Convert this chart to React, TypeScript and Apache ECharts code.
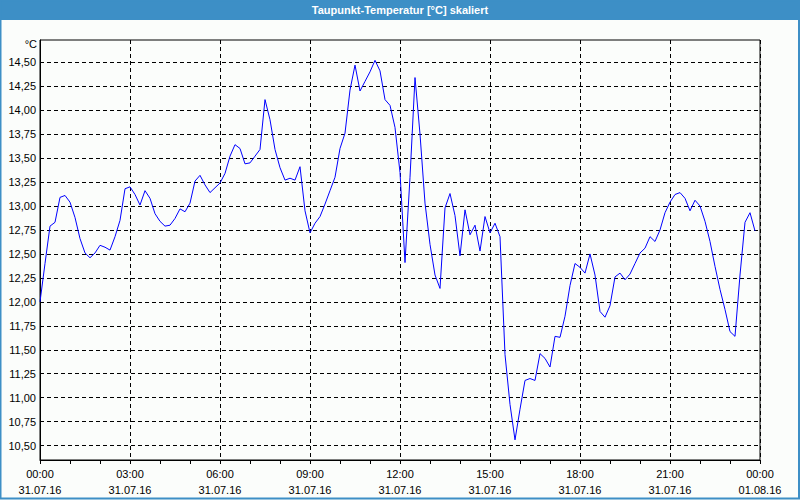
import React, { useEffect, useRef } from "react";
import * as echarts from "echarts";

const TITLE = "Taupunkt-Temperatur [°C] skaliert";
const UNIT = "°C";
// samples every 10 minutes from 31.07.16 00:00
const STEP_MIN = 10;
const dewPoint = [
  12.0, 12.4, 12.79, 12.83, 13.09, 13.11, 13.04, 12.88, 12.66, 12.51, 12.46, 12.51,
  12.59, 12.57, 12.54, 12.68, 12.85, 13.18, 13.2, 13.12, 13.01, 13.16, 13.08, 12.92,
  12.84, 12.79, 12.8, 12.87, 12.97, 12.94, 13.03, 13.26, 13.32, 13.22, 13.14, 13.19,
  13.24, 13.34, 13.52, 13.64, 13.6, 13.44, 13.45, 13.52, 13.59, 14.11, 13.9, 13.59,
  13.4, 13.27, 13.29, 13.27, 13.41, 12.95, 12.72, 12.82, 12.89, 13.02, 13.16, 13.3,
  13.6, 13.76, 14.21, 14.47, 14.2, 14.3, 14.4, 14.52, 14.41, 14.11, 14.05, 13.82,
  13.35, 12.41, 13.3, 14.34, 13.75, 13.03, 12.6, 12.28, 12.14, 12.98, 13.13, 12.9,
  12.48, 12.96, 12.7, 12.8, 12.53, 12.89, 12.72, 12.82, 12.68, 11.45, 10.93, 10.56,
  10.88, 11.18, 11.2, 11.18, 11.46, 11.41, 11.32, 11.64, 11.63, 11.85, 12.17, 12.4,
  12.36, 12.3, 12.5, 12.28, 11.9, 11.84, 11.96, 12.26, 12.3, 12.23, 12.29, 12.4,
  12.51, 12.56, 12.68, 12.63, 12.75, 12.93, 13.04, 13.12, 13.14, 13.08, 12.95, 13.06,
  13.0, 12.84, 12.63, 12.37, 12.13, 11.92, 11.69, 11.64, 12.28, 12.83, 12.93, 12.74,
];
const yTicks = [
  10.5, 10.75, 11.0, 11.25, 11.5, 11.75, 12.0, 12.25, 12.5, 12.75, 13.0, 13.25,
  13.5, 13.75, 14.0, 14.25, 14.5,
];
const xTickHours = [0, 3, 6, 9, 12, 15, 18, 21, 24];
const xTickTimes = ["00:00", "03:00", "06:00", "09:00", "12:00", "15:00", "18:00", "21:00", "00:00"];
const xTickDates = ["31.07.16", "31.07.16", "31.07.16", "31.07.16", "31.07.16", "31.07.16", "31.07.16", "31.07.16", "01.08.16"];

const FONT = "'Liberation Sans', 'DejaVu Sans', sans-serif";

export default function App() {
  const ref = useRef<HTMLDivElement>(null);
  useEffect(() => {
    document.body.style.margin = "0";
    const chart = echarts.init(ref.current!, null, { renderer: "svg" });
    const data = dewPoint.map((v, i) => [(i * STEP_MIN) / 60, v]);
    chart.setOption({
      animation: false,
      backgroundColor: "#fbfdfb",
      textStyle: { fontFamily: FONT },
      graphic: [
        { type: "rect", shape: { x: 0, y: 0, width: 800, height: 20 }, style: { fill: "#3d8fc6" }, z: 10 },
        {
          type: "text",
          x: 400,
          y: 10,
          style: { text: TITLE, fill: "#ffffff", font: `bold 11px ${FONT}`, align: "center", verticalAlign: "middle" },
          z: 11,
        },
        {
          type: "rect",
          shape: { x: 0.5, y: 0.5, width: 798.5, height: 498 },
          style: { fill: "none", stroke: "#3d8fc6", lineWidth: 2 },
          z: 10,
        },
        {
          type: "text",
          x: 37,
          y: 44,
          style: { text: UNIT, fill: "#000", font: `11px ${FONT}`, align: "right", verticalAlign: "middle" },
          z: 11,
        },
      ],
      grid: {
        left: 40,
        top: 40,
        width: 720,
        height: 420,
        show: true,
        borderColor: "#000",
        borderWidth: 1,
        backgroundColor: "transparent",
      },
      xAxis: {
        type: "value",
        min: 0,
        max: 24,
        interval: 3,
        axisLine: { show: true, lineStyle: { color: "#000", width: 1 } },
        axisTick: { show: true, length: 4, lineStyle: { color: "#000" } },
        minorTick: { show: true, splitNumber: 3, length: 4, lineStyle: { color: "#000" } },
        splitLine: { show: true, lineStyle: { color: "#000", type: [4, 3], width: 1 } },
        axisLabel: {
          margin: 6,
          fontSize: 11,
          lineHeight: 16,
          color: "#000",
          fontFamily: FONT,
          formatter: (v: number) => {
            const i = xTickHours.indexOf(v);
            return i >= 0 ? `${xTickTimes[i]}\n${xTickDates[i]}` : "";
          },
        },
      },
      yAxis: {
        type: "value",
        min: 10.35,
        max: 14.732,
        axisLine: { show: true, lineStyle: { color: "#000", width: 1 } },
        axisTick: { show: false, customValues: yTicks },
        splitLine: { show: true, lineStyle: { color: "#000", type: [4, 3], width: 1 } },
        axisLabel: {
          customValues: yTicks,
          margin: 4,
          fontSize: 11,
          color: "#000",
          fontFamily: FONT,
          formatter: (v: number) => v.toFixed(2).replace(".", ","),
        },
      },
      series: [
        {
          type: "line",
          data,
          symbol: "none",
          lineStyle: { color: "#0000ff", width: 1 },
          z: 5,
        },
      ],
    });
    return () => chart.dispose();
  }, []);
  return <div ref={ref} style={{ position: "fixed", left: 0, top: 0, width: 800, height: 500 }} />;
}
